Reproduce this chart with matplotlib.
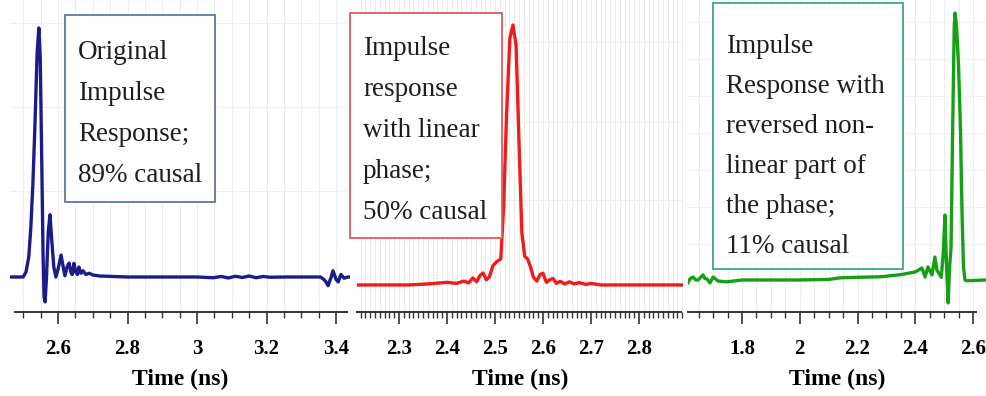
"""Impulse responses: original, linear phase, reversed non-linear phase"""

import matplotlib.pyplot as plt
from matplotlib.patches import Rectangle
from matplotlib.ticker import MultipleLocator, FormatStrFormatter

# Original impulse response (time in ns, normalised amplitude)
t_orig = [2.462, 2.500, 2.508, 2.516, 2.522, 2.528, 2.534, 2.540, 2.545,
          2.549, 2.553, 2.557, 2.560, 2.563, 2.567, 2.572, 2.577, 2.582,
          2.588, 2.594, 2.600, 2.609, 2.615, 2.620, 2.626, 2.632, 2.637,
          2.641, 2.646, 2.651, 2.656, 2.660, 2.666, 2.672, 2.680, 2.690,
          2.700, 2.720, 2.760, 2.800, 2.900, 3.000, 3.046, 3.070, 3.090,
          3.110, 3.130, 3.150, 3.170, 3.190, 3.210, 3.260, 3.320, 3.355,
          3.365, 3.371, 3.377, 3.386, 3.391, 3.400, 3.406, 3.414, 3.423,
          3.434, 3.440]
a_orig = [0.0, 0.0, 0.02, 0.08, 0.2, 0.38, 0.62, 0.9, 1.0,
          0.88, 0.5, 0.1, -0.08, -0.10, 0.0, 0.18, 0.25, 0.15,
          0.04, 0.0, 0.03, 0.088, 0.04, 0.005, 0.04, 0.056, 0.02,
          0.01, 0.055, 0.02, 0.01, 0.04, 0.015, 0.025, 0.01, 0.015,
          0.008, 0.004, 0.002, 0.0, 0.0, 0.0, -0.003, 0.002, -0.004,
          0.003, -0.002, 0.004, -0.003, 0.002, -0.001, 0.0, 0.0, 0.0,
          -0.01, -0.02, -0.035, 0.0, 0.025, -0.01, -0.02, 0.01, -0.005,
          0.0, 0.0]

# Same magnitude, linear phase
t_lin = [2.213, 2.320, 2.360, 2.400, 2.420, 2.435, 2.445, 2.454, 2.462,
         2.468, 2.475, 2.482, 2.488, 2.496, 2.504, 2.512, 2.518, 2.524,
         2.531, 2.5375, 2.544, 2.550, 2.556, 2.562, 2.568, 2.574, 2.580,
         2.587, 2.594, 2.600, 2.607, 2.614, 2.621, 2.628, 2.636, 2.645,
         2.655, 2.665, 2.675, 2.690, 2.700, 2.720, 2.892]
a_lin = [0.0, 0.0, 0.004, 0.01, 0.006, 0.015, 0.008, 0.027, 0.012,
         0.035, 0.046, 0.02, 0.03, 0.075, 0.09, 0.1, 0.3, 0.65,
         0.95, 1.0, 0.92, 0.55, 0.2, 0.11, 0.1, 0.07, 0.03,
         0.015, 0.04, 0.045, 0.01, 0.02, 0.025, 0.006, 0.014, 0.004,
         0.012, 0.004, 0.009, 0.002, 0.006, 0.0, 0.0]

# Non-linear part of the phase reversed
t_rev = [1.613, 1.620, 1.630, 1.640, 1.648, 1.657, 1.665, 1.672, 1.679,
         1.689, 1.700, 1.708, 1.717, 1.735, 1.748, 1.800, 1.900, 2.000,
         2.100, 2.140, 2.200, 2.280, 2.350, 2.400, 2.423, 2.434, 2.444,
         2.458, 2.468, 2.475, 2.490, 2.497, 2.503, 2.508, 2.514, 2.519,
         2.524, 2.530, 2.535, 2.538, 2.543, 2.550, 2.557, 2.562, 2.567,
         2.572, 2.580, 2.645]
a_rev = [-0.01, 0.004, 0.011, 0.0, 0.0, 0.01, 0.019, 0.005, 0.004,
         -0.011, 0.011, 0.004, -0.004, -0.006, -0.007, 0.0, 0.0, 0.0,
         0.002, 0.008, 0.01, 0.012, 0.02, 0.03, 0.045, 0.011, 0.049,
         0.019, 0.086, 0.037, 0.01, 0.1, 0.243, 0.06, -0.086, 0.05,
         0.124, 0.6, 0.95, 1.0, 0.95, 0.8, 0.55, 0.25, 0.05,
         0.0, -0.003, 0.0]

notes_orig = ["Original", "Impulse", "Response;", "89% causal"]
notes_lin = ["Impulse", "response", "with linear", "phase;", "50% causal"]
notes_rev = ["Impulse", "Response with", "reversed non-", "linear part of",
             "the phase;", "11% causal"]

W, H = 986, 396


def panel(fig, px, t, a, color, xlim, ylim, spine, major, minor, hgrid):
    """one subplot, placed in pixel units"""
    ax = fig.add_axes([px[0] / W, 84 / H, (px[1] - px[0]) / W, 312 / H])
    ax.plot(t, a, color=color, lw=2.4, solid_joinstyle="round", zorder=3)
    ax.set_xlim(*xlim)
    ax.set_ylim(*ylim)
    for s in ("top", "left", "right"):
        ax.spines[s].set_visible(False)
    ax.spines["bottom"].set_bounds(*spine)
    ax.spines["bottom"].set_linewidth(1.4)
    ax.spines["bottom"].set_color("#333333")
    ax.xaxis.set_major_locator(MultipleLocator(major))
    ax.xaxis.set_minor_locator(MultipleLocator(minor))
    ax.xaxis.set_major_formatter(FormatStrFormatter("%g"))
    ax.tick_params(axis="x", which="major", direction="out", length=8.5,
                   width=1.2, color="#333333", pad=11, labelsize=15)
    ax.tick_params(axis="x", which="minor", direction="out", length=4.5,
                   width=1.0, color="#333333")
    for lab in ax.get_xticklabels():
        lab.set_fontfamily("Liberation Serif")
        lab.set_fontweight("bold")
    ax.set_yticks(hgrid)
    ax.tick_params(axis="y", left=False, labelleft=False)
    ax.grid(True, which="both", axis="x", color="#ececec", lw=0.7)
    ax.grid(True, axis="y", color="#f0f0f0", lw=0.8)
    ax.set_xlabel("Time (ns)", family="Liberation Serif", weight="bold",
                  fontsize=17, labelpad=7)
    return ax


def note(fig, box, lines, edge, first, step, left):
    """text box with a list of lines"""
    x0, y0, x1, y1 = box
    fig.add_artist(Rectangle((x0 / W, 1 - y1 / H), (x1 - x0) / W,
                             (y1 - y0) / H, transform=fig.transFigure,
                             facecolor="white", edgecolor=edge, lw=1.3))
    for i, s in enumerate(lines):
        fig.text(left / W, 1 - (first + i * step) / H, s, va="baseline",
                 ha="left", family="Liberation Serif", fontsize=19.5,
                 color="#1e1e1e")


def main() -> None:
    """main function"""
    fig = plt.figure(figsize=(W / 100, H / 100), dpi=100)

    panel(fig, (10, 350), t_orig, a_orig, "#1c1c88", (2.462, 3.440),
          (-0.1406, 1.1124), (2.476, 3.432), 0.2, 0.05,
          [0.345, 0.683, 1.02])
    panel(fig, (357, 683), t_lin, a_lin, "#ee1c1c", (2.2125, 2.8917),
          (-0.104, 1.096), (2.2125, 2.8875), 0.1, 0.01,
          [0.327, 0.627, 0.935])
    panel(fig, (688, 986), t_rev, a_rev, "#16a016", (1.613, 2.645),
          (-0.12, 1.049), (1.613, 2.61), 0.2, 0.05,
          [0.135, 0.273, 0.412, 0.551, 0.689, 0.828, 0.966])

    note(fig, (65, 15, 215, 202), notes_orig, "#5a7aa4", 59, 41, 78)
    note(fig, (350, 13, 502, 238), notes_lin, "#e05a5a", 55, 41, 363)
    note(fig, (713, 3, 903, 269), notes_rev, "#3aaa7a", 53, 40, 726)

    fig.savefig("out.png", dpi=100)


if __name__ == "__main__":
    main()
